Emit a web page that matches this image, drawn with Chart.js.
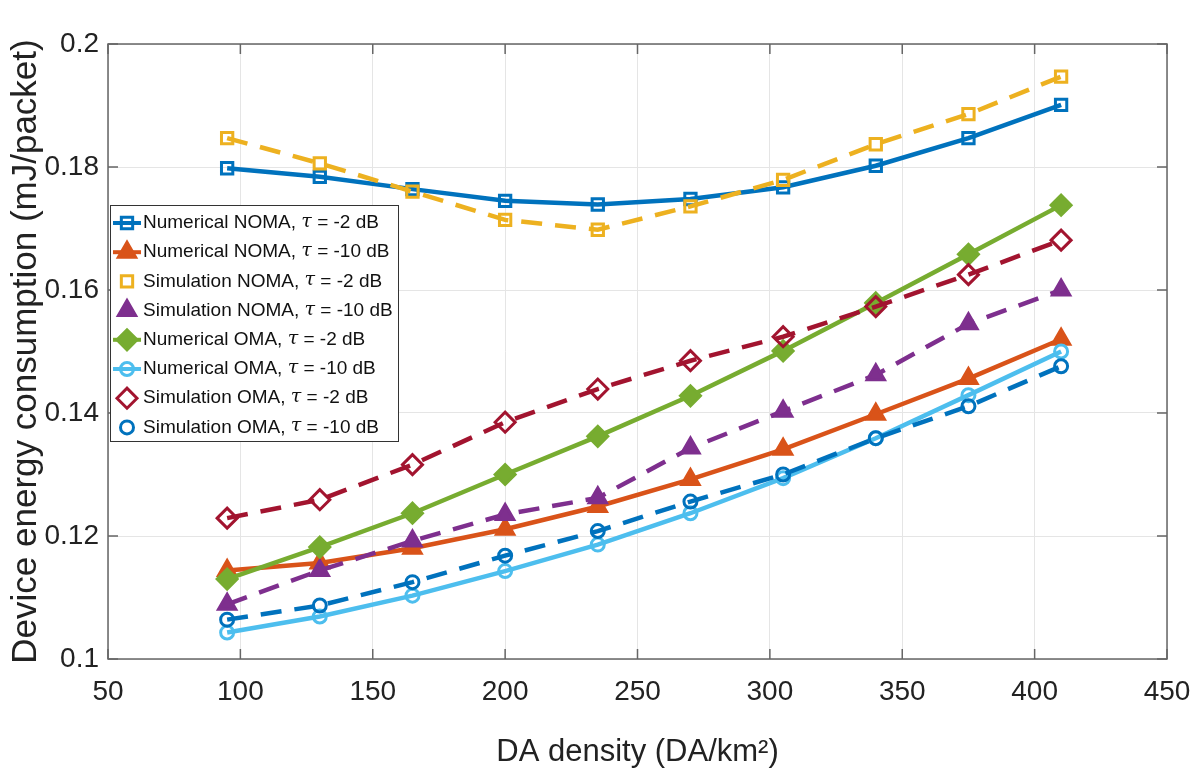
<!DOCTYPE html>
<html lang="en">
<head>
<meta charset="utf-8">
<title>Device energy consumption vs DA density</title>
<script src="https://cdn.jsdelivr.net/npm/chart.js@4.4.1/dist/chart.umd.min.js"></script>
<style>
  html, body { margin: 0; padding: 0; background: #fff; }
  #wrap { width: 1203px; height: 771px; }
</style>
</head>
<body>
<div id="wrap"><canvas id="chart"></canvas></div>
<script>
// data
var density = [95, 130, 165, 200, 235, 270, 305, 340, 375, 410];

var numNomaM2  = [0.1798, 0.1784, 0.1764, 0.1745, 0.1739, 0.1748, 0.1767, 0.1802, 0.1847, 0.1901];
var numNomaM10 = [0.1144, 0.1156, 0.1180, 0.1211, 0.1248, 0.1292, 0.1341, 0.1398, 0.1456, 0.1520];
var simNomaM2  = [0.1847, 0.1806, 0.1760, 0.1714, 0.1698, 0.1736, 0.1779, 0.1837, 0.1886, 0.1947];
var simNomaM10 = [0.1089, 0.1144, 0.1192, 0.1235, 0.1262, 0.1343, 0.1403, 0.1462, 0.1545, 0.1600];
var numOmaM2   = [0.1130, 0.1182, 0.1237, 0.1300, 0.1362, 0.1428, 0.1501, 0.1579, 0.1658, 0.1738];
var numOmaM10  = [0.1043, 0.1069, 0.1103, 0.1143, 0.1186, 0.1237, 0.1294, 0.1359, 0.1429, 0.1500];
var simOmaM2   = [0.1229, 0.1259, 0.1316, 0.1385, 0.1439, 0.1485, 0.1524, 0.1573, 0.1625, 0.1681];
var simOmaM10  = [0.1064, 0.1087, 0.1125, 0.1168, 0.1208, 0.1256, 0.1300, 0.1359, 0.1411, 0.1476];

var xTicks = [50, 100, 150, 200, 250, 300, 350, 400, 450];
var yTicks = [0.1, 0.12, 0.14, 0.16, 0.18, 0.2];

var baseFont = "'Liberation Sans', Arial, sans-serif";

function pts(ys) {
  return density.map(function (x, i) { return { x: x, y: ys[i] }; });
}

// legend label parts: before tau, after tau
function series(name, tauText, ys, color, style, radius, filled, dashed) {
  return {
    label: name + ', \u03c4 = ' + tauText,
    namePart: name + ', ',
    tauPart: ' = ' + tauText,
    data: pts(ys),
    borderColor: color,
    backgroundColor: color,
    pointStyle: style,
    pointRadius: radius,
    pointHoverRadius: radius,
    pointBorderWidth: 3,
    pointBackgroundColor: filled ? color : 'rgba(255,255,255,0)',
    pointBorderColor: color,
    borderWidth: 4.5,
    borderDash: dashed ? [21, 13] : [],
    fill: false,
    tension: 0
  };
}

var datasets = [
  series('Numerical NOMA', '-2 dB', numNomaM2, '#0072BD', 'rect', 8, false, false),
  series('Numerical NOMA', '-10 dB', numNomaM10, '#D95319', 'triangle', 10, true, false),
  series('Simulation NOMA', '-2 dB', simNomaM2, '#EDB120', 'rect', 8, false, true),
  series('Simulation NOMA', '-10 dB', simNomaM10, '#7E2F8E', 'triangle', 10, true, true),
  series('Numerical OMA', '-2 dB', numOmaM2, '#77AC30', 'rectRot', 10, true, false),
  series('Numerical OMA', '-10 dB', numOmaM10, '#4DBEEE', 'circle', 6.5, false, false),
  series('Simulation OMA', '-2 dB', simOmaM2, '#A2142F', 'rectRot', 10, false, true),
  series('Simulation OMA', '-10 dB', simOmaM10, '#0072BD', 'circle', 6.5, false, true)
];
// later series on top, like the original
datasets.forEach(function (d, i) { d.order = datasets.length - i; });

// box, inward ticks and the legend
var framePlugin = {
  id: 'frame',
  afterDraw: function (chart) {
    var ctx = chart.ctx, a = chart.chartArea;
    var xs = chart.scales.x, ys = chart.scales.y;
    ctx.save();
    ctx.strokeStyle = '#666';
    ctx.lineWidth = 1.5;
    ctx.strokeRect(a.left, a.top, a.right - a.left, a.bottom - a.top);
    ctx.beginPath();
    xTicks.forEach(function (v) {
      var px = xs.getPixelForValue(v);
      ctx.moveTo(px, a.bottom); ctx.lineTo(px, a.bottom - 10);
      ctx.moveTo(px, a.top); ctx.lineTo(px, a.top + 10);
    });
    yTicks.forEach(function (v) {
      var py = ys.getPixelForValue(v);
      ctx.moveTo(a.left, py); ctx.lineTo(a.left + 10, py);
      ctx.moveTo(a.right, py); ctx.lineTo(a.right - 10, py);
    });
    ctx.stroke();

    // legend box
    var lx = 110, ly = 205, lw = 288, lh = 236, rowH = 29.2;
    ctx.fillStyle = '#fff';
    ctx.fillRect(lx, ly, lw, lh);
    ctx.strokeStyle = '#333';
    ctx.lineWidth = 1;
    ctx.strokeRect(lx + 0.5, ly + 0.5, lw, lh);
    chart.data.datasets.forEach(function (d, i) {
      var cy = ly + 18 + i * rowH;
      ctx.save();
      ctx.strokeStyle = d.borderColor;
      ctx.lineWidth = 4;
      if (!d.borderDash.length) {
        ctx.beginPath();
        ctx.moveTo(lx + 3, cy); ctx.lineTo(lx + 31, cy);
        ctx.stroke();
      }
      ctx.fillStyle = d.pointBackgroundColor;
      ctx.lineWidth = 3;
      Chart.helpers.drawPoint(ctx, {
        pointStyle: d.pointStyle,
        radius: d.pointRadius,
        rotation: 0,
        borderWidth: 3
      }, lx + 17, cy);
      ctx.restore();

      var tx = lx + 33;
      ctx.fillStyle = '#111';
      ctx.textBaseline = 'middle';
      ctx.font = '19px ' + baseFont;
      ctx.fillText(d.namePart, tx, cy);
      tx += ctx.measureText(d.namePart).width;
      ctx.font = "italic 19px 'DejaVu Serif', serif";
      ctx.fillText('\u03c4', tx, cy - 1);
      tx += ctx.measureText('\u03c4').width;
      ctx.font = '19px ' + baseFont;
      ctx.fillText(d.tauPart, tx, cy);
    });
    ctx.restore();
  }
};

var chart = new Chart(document.getElementById('chart'), {
  type: 'line',
  data: { datasets: datasets },
  options: {
    responsive: true,
    maintainAspectRatio: false,
    animation: false,
    layout: { padding: { top: 44, right: 36, left: 0, bottom: 0 } },
    plugins: {
      legend: { display: false },
      tooltip: { enabled: false }
    },
    scales: {
      x: {
        type: 'linear',
        min: 50, max: 450,
        afterFit: function (s) { s.height = 112; s.paddingLeft = 0; s.paddingRight = 0; },
        afterBuildTicks: function (s) { s.ticks = xTicks.map(function (v) { return { value: v }; }); },
        grid: { color: '#e5e5e5', lineWidth: 1, drawTicks: false },
        border: { display: false },
        ticks: {
          padding: 16,
          color: '#222',
          font: { family: baseFont, size: 28 },
          maxRotation: 0
        },
        title: {
          display: true,
          text: 'DA density (DA/km\u00b2)',
          color: '#222',
          font: { family: baseFont, size: 31 },
          padding: { top: 10, bottom: 0 }
        }
      },
      y: {
        min: 0.1, max: 0.2,
        afterFit: function (s) { s.width = 108; s.paddingTop = 0; s.paddingBottom = 0; },
        afterBuildTicks: function (s) { s.ticks = yTicks.map(function (v) { return { value: v }; }); },
        grid: { color: '#e5e5e5', lineWidth: 1, drawTicks: false },
        border: { display: false },
        ticks: {
          padding: 9,
          color: '#222',
          font: { family: baseFont, size: 28 },
          callback: function (v) { return String(Number(v.toFixed(2))); }
        },
        title: {
          display: true,
          text: 'Device energy consumption (mJ/packet)',
          color: '#222',
          font: { family: baseFont, size: 35 },
          padding: { top: 5, bottom: 0 }
        }
      }
    }
  },
  plugins: [framePlugin]
});
</script>
</body>
</html>
